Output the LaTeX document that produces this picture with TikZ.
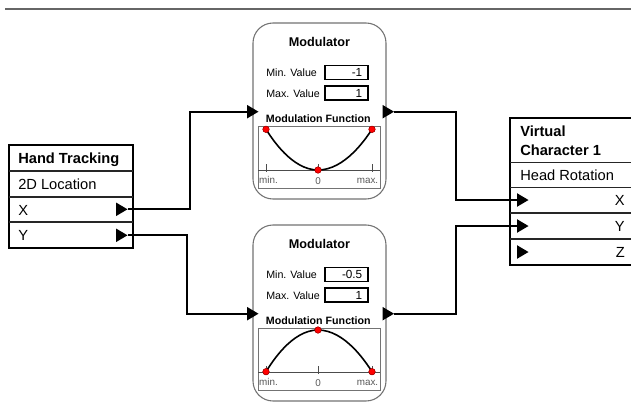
\documentclass[tikz,border=0pt]{standalone}
\usepackage{fontspec}
\setmainfont{Liberation Sans}
\begin{document}
\begin{tikzpicture}[x=0.75pt,y=-0.75pt,
  outer/.style={draw=black, line width=1.6pt},
  sep/.style={draw=black!85, line width=0.8pt},
  conn/.style={draw=black, line width=1.4pt},
  modframe/.style={draw=black!55, line width=0.8pt, rounded corners=15pt},
  valbox/.style={draw=black, line width=0.9pt},
  graphbox/.style={draw=black!55, line width=0.6pt},
  axisline/.style={draw=black!70, line width=0.6pt},
  curve/.style={draw=black, line width=1.2pt},
  rdot/.style={fill=red, draw=red!60!black, line width=0.3pt},
  hdr/.style={inner sep=0pt, font=\fontsize{11}{13}\selectfont\bfseries},
  row/.style={inner sep=0pt, font=\fontsize{11}{13}\selectfont},
  mtitle/.style={inner sep=0pt, font=\fontsize{9.5}{11}\selectfont\bfseries},
  mlab/.style={inner sep=0pt, font=\fontsize{8}{10}\selectfont},
  mval/.style={inner sep=0pt, font=\fontsize{8.8}{10}\selectfont},
  mfn/.style={inner sep=0pt, font=\fontsize{8}{10}\selectfont\bfseries},
  msmall/.style={inner sep=0pt, text=black!65, font=\fontsize{7.4}{8}\selectfont},
  port/.pic={\fill[black] (0,0) -- (-11.5,-6.8) -- (-11.5,6.8) -- cycle;},
  pics/modulator/.style n args={3}{code={
    \draw[modframe] (253,23) rectangle (386,199);
    \node[mtitle, anchor=base] (-title) at (319.5,46.5) {Modulator};
    \node[mlab, anchor=base west] (-minl) at (266,76.5) {Min. Value};
    \draw[valbox] (325,65.7) rectangle (368,79.3);
    \node[mval, anchor=base east] (-minv) at (362.5,76.8) {#1};
    \node[mlab, anchor=base west] (-maxl) at (266,97) {Max. Value};
    \draw[valbox] (325,86) rectangle (368,100);
    \node[mval, anchor=base east] (-maxv) at (362.5,97.3) {1};
    \node[mfn, anchor=base] (-fn) at (318.3,122.5) {Modulation Function};
    \draw[graphbox] (258.3,126.7) rectangle (380,188.3);
    \draw[axisline] (258.3,170) -- (380,170);
    \foreach \tx in {266,318,372} {\draw[axisline] (\tx,164) -- (\tx,172);}
    \node[msmall, anchor=base] (-lmin) at (268.5,183.3) {min.};
    \node[msmall, anchor=base] (-lzero) at (318,184) {0};
    \node[msmall, anchor=base] (-lmax) at (367.5,183.3) {max.};
    \draw[curve] (266,#2) parabola bend (318,#3) (372,#2);
    \fill[rdot] (266,#2) circle[radius=3.2];
    \fill[rdot] (318,#3) circle[radius=3.2];
    \fill[rdot] (372,#2) circle[radius=3.2];
    \draw[rdot] (266,#2) circle[radius=3.2];
    \draw[rdot] (318,#3) circle[radius=3.2];
    \draw[rdot] (372,#2) circle[radius=3.2];
    \coordinate (-in) at (247,111.7);
    \coordinate (-intip) at (258.5,111.7);
    \coordinate (-out) at (394,111.7);
    \pic at (-intip) {port};
    \pic at (-out) {port};
  }}
]
\useasboundingbox (0,0) rectangle (631,401);
\fill[white] (0,0) rectangle (631,401);

% top rule
\draw[black!60, line width=1.5pt] (5,9) -- (631,9);

% modulators
\pic (m1) at (0,0) {modulator={-1}{129.3}{170}};
\pic (m2) at (0,202) {modulator={-0.5}{169.7}{128}};

% Hand Tracking
\draw[outer] (9,145) rectangle (133,248);
\draw[sep] (9,171) -- (133,171);
\draw[sep] (9,197) -- (133,197);
\draw[sep] (9,222) -- (133,222);
\node[hdr, anchor=base west] (ht-title) at (18,163.5) {Hand Tracking};
\node[row, anchor=base west] (ht-loc) at (18,189.5) {2D Location};
\node[row, anchor=base west] (ht-xl) at (18,215) {X};
\node[row, anchor=base west] (ht-yl) at (18,240.8) {Y};
\coordinate (ht-x) at (127.5,209.3);
\coordinate (ht-y) at (127.5,235.3);
\pic at (ht-x) {port};
\pic at (ht-y) {port};

% Virtual Character
\draw[outer] (640,118) -- (510,118) -- (510,265) -- (640,265);
\draw[sep] (510,162.5) -- (640,162.5);
\draw[sep] (510,187.5) -- (640,187.5);
\draw[sep] (510,213) -- (640,213);
\draw[sep] (510,239) -- (640,239);
\node[hdr, anchor=base west] (vc-t1) at (520,136) {Virtual};
\node[hdr, anchor=base west] (vc-t2) at (520,155) {Character 1};
\node[row, anchor=base west] (vc-hr) at (520,180.5) {Head Rotation};
\node[row, anchor=base east] (vc-xl) at (625,205.5) {X};
\node[row, anchor=base east] (vc-yl) at (625,231.5) {Y};
\node[row, anchor=base east] (vc-zl) at (625,257.5) {Z};
\coordinate (vc-x) at (517,200);
\coordinate (vc-y) at (517,226);
\coordinate (vc-z) at (517,252);
\pic at (528.5,200) {port};
\pic at (528.5,226) {port};
\pic at (528.5,252) {port};

% junction columns
\coordinate (j1) at (190,0);
\coordinate (j2) at (187,0);
\coordinate (j3) at (456,0);

% connectors
\draw[conn] (ht-x) -- (ht-x -| j1) -- (j1 |- m1-in) -- (m1-in);
\draw[conn] (ht-y) -- (ht-y -| j2) -- (j2 |- m2-in) -- (m2-in);
\draw[conn] (m1-out) -- (m1-out -| j3) -- (j3 |- vc-x) -- (vc-x);
\draw[conn] (m2-out) -- (m2-out -| j3) -- (j3 |- vc-y) -- (vc-y);
\end{tikzpicture}
\end{document}
